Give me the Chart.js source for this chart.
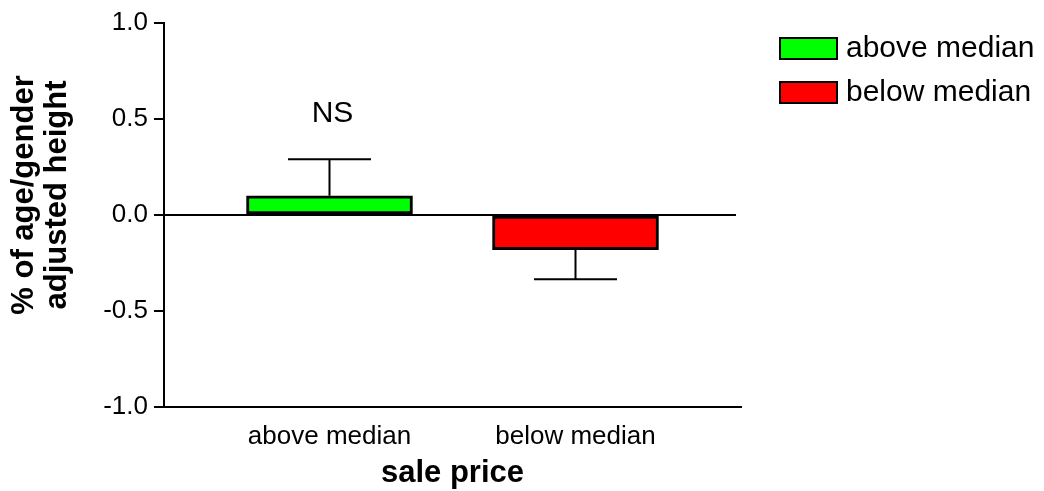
<!DOCTYPE html>
<html>
<head>
<meta charset="utf-8">
<script src="https://cdn.jsdelivr.net/npm/chart.js@4/dist/chart.umd.min.js"></script>
<style>
  html, body { margin: 0; padding: 0; background: #fff; }
  #wrap { width: 1044px; height: 491px; }
</style>
</head>
<body>
<div id="wrap"><canvas id="c" width="1044" height="491"></canvas></div>
<script>
// ---- data ----
const categories = ['above median', 'below median'];
const values = [0.10, -0.18];
const errors = [0.19, 0.155];          // SEM, drawn on the outward side only
const annotations = ['NS', ''];
const colors = ['#00ff00', '#ff0000'];
const yTicks = [-1.0, -0.5, 0.0, 0.5, 1.0];
const xTitle = 'sale price';
const yTitle = ['% of age/gender', 'adjusted height'];

const FONT = 'Arial, "Liberation Sans", Helvetica, sans-serif';

const extras = {
  id: 'extras',
  beforeDatasetsDraw(chart) {
    const { ctx, chartArea, scales } = chart;
    const y0 = scales.y.getPixelForValue(0);
    ctx.save();
    ctx.strokeStyle = '#000';
    ctx.lineWidth = 2;
    ctx.beginPath();
    ctx.moveTo(chartArea.left, y0);
    ctx.lineTo(chartArea.right - 5, y0);
    ctx.stroke();
    ctx.restore();
  },
  afterDatasetsDraw(chart) {
    const { ctx, scales } = chart;
    const meta = chart.getDatasetMeta(0);
    ctx.save();
    ctx.strokeStyle = '#000';
    ctx.lineWidth = 2;
    meta.data.forEach((bar, i) => {
      const v = values[i];
      const end = v >= 0 ? v + errors[i] : v - errors[i];
      const yBar = scales.y.getPixelForValue(v);
      const yEnd = scales.y.getPixelForValue(end);
      const half = bar.width / 4;
      ctx.beginPath();
      ctx.moveTo(bar.x, yBar);
      ctx.lineTo(bar.x, yEnd);
      ctx.moveTo(bar.x - half, yEnd);
      ctx.lineTo(bar.x + half, yEnd);
      ctx.stroke();
      if (annotations[i]) {
        ctx.fillStyle = '#000';
        ctx.font = '30px ' + FONT;
        ctx.textAlign = 'center';
        ctx.textBaseline = 'middle';
        ctx.fillText(annotations[i], bar.x + 3, yEnd - 46);
      }
    });
    ctx.restore();
  },
  afterDraw(chart) {
    const { ctx, chartArea } = chart;
    ctx.save();
    ctx.fillStyle = '#000';
    // x title
    ctx.font = 'bold 31px ' + FONT;
    ctx.textAlign = 'center';
    ctx.textBaseline = 'middle';
    ctx.fillText(xTitle, (chartArea.left + chartArea.right) / 2, 473);
    // y title
    ctx.save();
    ctx.translate(0, 195);
    ctx.rotate(-Math.PI / 2);
    ctx.fillText(yTitle[0], 0, 24);
    ctx.fillText(yTitle[1], 0, 57);
    ctx.restore();
    // legend
    ctx.font = '30px ' + FONT;
    ctx.textAlign = 'left';
    categories.forEach((c, i) => {
      const top = 38 + i * 44;
      ctx.fillStyle = colors[i];
      ctx.fillRect(780, top, 57, 21);
      ctx.strokeStyle = '#000';
      ctx.lineWidth = 2;
      ctx.strokeRect(780, top, 57, 21);
      ctx.fillStyle = '#000';
      ctx.fillText(c, 846, top + 11);
    });
    ctx.restore();
  }
};

new Chart(document.getElementById('c'), {
  type: 'bar',
  data: {
    datasets: [{
      data: categories.map((c, i) => ({ x: i, y: values[i] })),
      backgroundColor: colors,
      borderColor: '#000',
      borderWidth: 3,
      borderSkipped: false,
      barThickness: 166
    }]
  },
  options: {
    responsive: false,
    animation: false,
    devicePixelRatio: 1,
    layout: { padding: { left: 0, right: 303, top: 23, bottom: 0 } },
    plugins: { legend: { display: false }, tooltip: { enabled: false } },
    scales: {
      x: {
        type: 'linear',
        offset: false,
        min: 0.5 - 577 / 246 / 2,
        max: 0.5 + 577 / 246 / 2,
        afterFit(s) { s.height = 84; },
        afterBuildTicks(s) { s.ticks = categories.map((c, i) => ({ value: i })); },
        grid: { display: false, drawTicks: false },
        border: { display: true, color: '#000', width: 2 },
        ticks: {
          autoSkip: false,
          maxRotation: 0,
          padding: 14,
          color: '#000',
          font: { family: FONT, size: 26 },
          callback: (v) => categories[v] ?? ''
        }
      },
      y: {
        min: -1,
        max: 1,
        afterFit(s) { s.width = 164; },
        afterBuildTicks(s) { s.ticks = yTicks.map(v => ({ value: v })); },
        grid: { display: true, drawOnChartArea: false, drawTicks: true, tickLength: 10, color: '#000', lineWidth: 2 },
        border: { display: true, color: '#000', width: 2 },
        ticks: {
          padding: 6,
          color: '#000',
          font: { family: FONT, size: 26 },
          callback: (v) => Number(v).toFixed(1)
        }
      }
    }
  },
  plugins: [extras]
});
</script>
</body>
</html>
